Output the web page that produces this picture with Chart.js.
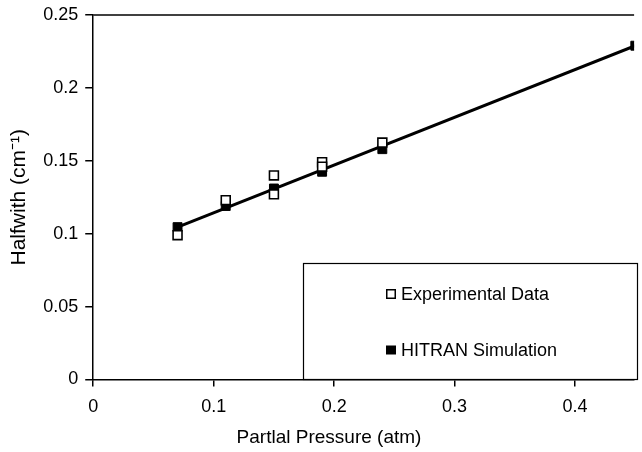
<!DOCTYPE html>
<html>
<head>
<meta charset="utf-8">
<script src="https://cdn.jsdelivr.net/npm/chart.js@4"></script>
<style>
  body { margin: 0; background: #fff; }
  #wrap { width: 642px; height: 452px; position: relative; }
</style>
</head>
<body>
<div id="wrap"><canvas id="myChart"></canvas></div>
<script>
// experimental points (open squares)
const expX = [0.07, 0.11, 0.15, 0.15, 0.19, 0.19, 0.24];
const expY = [0.099, 0.123, 0.140, 0.127, 0.149, 0.146, 0.1625];

// HITRAN simulation (filled squares)
const hitX = [0.07, 0.11, 0.15, 0.19, 0.24, 0.45];
const hitY = [0.1045, 0.119, 0.131, 0.1425, 0.158, 0.229];

// straight line through the simulation
const fitX = [0.07, 0.45];
const fitY = [0.1045, 0.229];

const xTitle = "Partlal Pressure (atm)";
const yTitle = "Halfwith (cm\u207B\u00B9)";

const FONT = "'Liberation Sans', Arial, sans-serif";

function toPoints(xs, ys) {
  return xs.map((x, i) => ({ x: x, y: ys[i] }));
}

function fmt(v) {
  return String(Number(v.toFixed(2)));
}

// legend box inside the plot, top frame line, x title
const boxLegend = {
  id: "boxLegend",
  afterDraw(chart) {
    const ctx = chart.ctx;
    const area = chart.chartArea;
    ctx.save();
    // top frame
    ctx.strokeStyle = "#000";
    ctx.lineWidth = 1.5;
    ctx.beginPath();
    ctx.moveTo(area.left, area.top);
    ctx.lineTo(area.right, area.top);
    ctx.stroke();

    // x axis title (sits left of the visible plot centre in the original)
    ctx.fillStyle = "#000";
    ctx.font = "19px " + FONT;
    ctx.textAlign = "center";
    ctx.textBaseline = "middle";
    ctx.fillText(xTitle, 329, 438);

    // legend box
    const bx = 303.5, by = 263.5, bw = 334, bh = 116;
    ctx.fillStyle = "#fff";
    ctx.fillRect(bx, by, bw, bh);
    ctx.lineWidth = 1.2;
    ctx.strokeRect(bx, by, bw, bh);

    const items = chart.data.datasets.filter((d) => d.inLegend);
    const rows = [294, 350];
    ctx.font = "18px " + FONT;
    ctx.textAlign = "left";
    items.forEach((d, i) => {
      const y = rows[i];
      if (d.backgroundColor === "#fff") {
        ctx.lineWidth = 1.5;
        ctx.strokeStyle = "#000";
        ctx.strokeRect(386.75, y - 4.25, 8.5, 8.5);
      } else {
        ctx.fillStyle = "#000";
        ctx.fillRect(386, y - 4.5, 10, 9);
      }
      ctx.fillStyle = "#000";
      ctx.fillText(d.label, 401, y + 1);
    });
    ctx.restore();
  },
};

const ctx = document.getElementById("myChart");

new Chart(ctx, {
  type: "scatter",
  data: {
    datasets: [
      {
        label: "Experimental Data",
        inLegend: true,
        data: toPoints(expX, expY),
        pointStyle: "rect",
        pointRadius: 6.3,
        backgroundColor: "#fff",
        borderColor: "#000",
        borderWidth: 1.6,
        order: 0,
      },
      {
        label: "HITRAN Simulation",
        inLegend: true,
        data: toPoints(hitX, hitY),
        pointStyle: "rect",
        pointRadius: 6.3,
        backgroundColor: "#000",
        borderColor: "#000",
        borderWidth: 1,
        order: 1,
      },
      {
        label: "fit",
        data: toPoints(fitX, fitY),
        showLine: true,
        pointRadius: 0,
        borderColor: "#000",
        borderWidth: 3,
        order: 2,
      },
    ],
  },
  options: {
    responsive: true,
    maintainAspectRatio: false,
    animation: false,
    layout: { padding: { top: 2, right: 0, left: 7, bottom: 24 } },
    plugins: {
      legend: { display: false },
      tooltip: { enabled: false },
    },
    scales: {
      x: {
        type: "linear",
        min: 0,
        max: 0.449,
        ticks: {
          stepSize: 0.1,
          includeBounds: false,
          color: "#000",
          font: { family: FONT, size: 18 },
          padding: 10,
          maxRotation: 0,
          callback: (v) => fmt(v),
        },
        grid: {
          drawOnChartArea: false,
          drawTicks: true,
          tickLength: 7,
          color: "#000",
          lineWidth: 1.5,
        },
        border: { color: "#000", width: 1.5 },
        title: { display: false },
      },
      y: {
        min: 0,
        max: 0.25,
        ticks: {
          stepSize: 0.05,
          color: "#000",
          font: { family: FONT, size: 18, lineHeight: 0.9 },
          padding: 7,
          callback: (v) => fmt(v),
        },
        grid: {
          drawOnChartArea: false,
          drawTicks: true,
          tickLength: 8,
          color: "#000",
          lineWidth: 1.5,
        },
        border: { color: "#000", width: 1.5 },
        title: {
          display: true,
          text: yTitle,
          color: "#000",
          font: { family: FONT, size: 21 },
          padding: { top: 0, bottom: 4 },
        },
      },
    },
  },
  plugins: [boxLegend],
});
</script>
</body>
</html>
